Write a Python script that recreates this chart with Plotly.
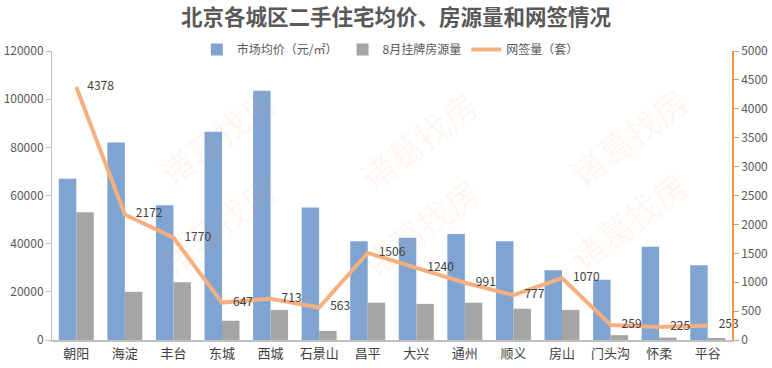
import plotly.graph_objects as go

districts = ["朝阳", "海淀", "丰台", "东城", "西城", "石景山", "昌平", "大兴", "通州", "顺义", "房山", "门头沟", "怀柔", "平谷"]
avg_price = [67000, 82000, 56000, 86500, 103500, 55000, 41000, 42500, 44000, 41000, 29000, 25000, 38700, 31000]
listings = [53000, 20000, 24000, 8000, 12500, 3800, 15500, 15000, 15500, 13000, 12500, 2000, 1000, 500]
signed = [4378, 2172, 1770, 647, 713, 563, 1506, 1240, 991, 777, 1070, 259, 225, 253]

FONT = "Noto Sans CJK SC"
W, H = 772, 368
L, R, T, B = 52, 40, 51, 28

fig = go.Figure()
fig.add_trace(go.Bar(x=districts, y=avg_price, name="市场均价（元/㎡）",
                     marker=dict(color="#7FA4D1", line=dict(width=0))))
fig.add_trace(go.Bar(x=districts, y=listings, name="8月挂牌房源量",
                     marker=dict(color="#A5A5A5", line=dict(width=0))))
fig.add_trace(go.Scatter(x=districts, y=signed, name="网签量（套）", yaxis="y2",
                         mode="lines+markers+text",
                         line=dict(color="#F6B07F", width=4),
                         marker=dict(size=16, color="rgba(0,0,0,0)"),
                         text=[str(v) for v in signed], textposition="middle right",
                         textfont=dict(family=FONT, size=12, color="#404040"),
                         cliponaxis=False))


def px2paper(px, py):
    return (px - L) / (W - L - R), (H - B - py) / (H - T - B)


annotations = []
for (cx, cy) in [(145, 73), (418, 77), (700, 73), (145, 225), (420, 227), (700, 220)]:
    xp, yp = px2paper(cx, cy)
    annotations.append(dict(text="诸葛找房", x=xp, y=yp, xref="paper", yref="paper",
                            showarrow=False, textangle=-37,
                            font=dict(family=FONT, size=34, color="rgba(248,160,100,0.11)")))

fig.update_layout(
    width=W, height=H,
    margin=dict(l=L, r=R, t=T, b=B, pad=0),
    paper_bgcolor="white", plot_bgcolor="white",
    font=dict(family=FONT, size=12, color="#595959"),
    title=dict(text="<b>北京各城区二手住宅均价、房源量和网签情况</b>", x=0.513, xanchor="center",
               y=0.953, yanchor="middle",
               font=dict(family=FONT, size=21.5, color="#595959")),
    barmode="group", bargap=0.28, bargroupgap=0,
    showlegend=True,
    legend=dict(orientation="h", x=0.213, xanchor="left", y=1.005, yanchor="middle",
                font=dict(family=FONT, size=12, color="#595959"),
                bgcolor="rgba(0,0,0,0)", itemwidth=30, tracegroupgap=0),
    xaxis=dict(range=[-0.5, len(districts) - 0.5], showline=True, linecolor="#BFBFBF",
               linewidth=2, ticks="", showgrid=False, automargin=False,
               tickfont=dict(family=FONT, size=13, color="#404040")),
    yaxis=dict(range=[0, 120000], dtick=20000, tickformat="d", showgrid=False, showline=True,
               automargin=False,
               linecolor="#BFBFBF", linewidth=1, ticks="outside", ticklen=5, tickcolor="#BFBFBF",
               tickfont=dict(family=FONT, size=12, color="#595959"), zeroline=False),
    yaxis2=dict(range=[0, 5000], dtick=500, tickformat="d", overlaying="y", side="right",
                showgrid=False, automargin=False,
                showline=True, linecolor="#F79646", linewidth=1.5, ticks="outside", ticklen=5,
                tickcolor="#F79646", tickfont=dict(family=FONT, size=12, color="#595959"),
                zeroline=False),
    annotations=annotations,
)

fig.write_html("out.html", config={"displayModeBar": False},
               post_script="document.body.style.margin='0';document.body.style.overflow='hidden';")
